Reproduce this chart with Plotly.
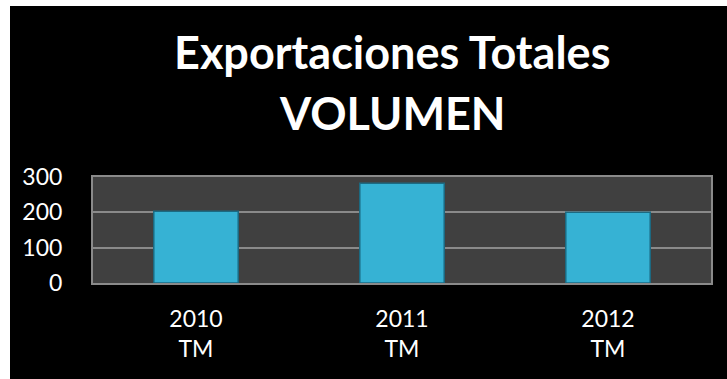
import plotly.graph_objects as go

years = ["2010", "2011", "2012"]
unit = "TM"
values = [203, 282, 200]
title_lines = ["Exportaciones Totales", "VOLUMEN"]

W, H = 727, 379
L, R, T, B = 93, 16, 177, 96
pw, ph = W - L - R, H - T - B

def px_x(x):
    return (x - L) / pw

def px_y(y):
    return (H - B - y) / ph

cats = [f"{y}<br>{unit}" for y in years]

fig = go.Figure(go.Bar(
    x=cats, y=values,
    marker=dict(color="#36B2D4", line=dict(color="#1C6A82", width=1.5)),
    width=0.41,
))

title_centers = [52, 113]
annotations = [dict(text=t, xref="paper", yref="paper",
                    x=px_x(392), y=px_y(c), xanchor="center", yanchor="middle",
                    showarrow=False,
                    font=dict(family="Lato, sans-serif", size=45, color="white",
                              weight="bold"))
               for t, c in zip(title_lines, title_centers)]

fig.update_layout(
    width=W, height=H,
    margin=dict(l=L, r=R, t=T, b=B),
    paper_bgcolor="black",
    plot_bgcolor="#404040",
    showlegend=False,
    font=dict(family="Lato, Calibri, sans-serif", color="white", size=23),
    shapes=[
        dict(type="rect", xref="paper", yref="paper", layer="below",
             x0=px_x(-5), x1=px_x(10), y0=px_y(-5), y1=px_y(H + 5),
             fillcolor="white", line=dict(width=0)),
        dict(type="rect", xref="paper", yref="paper", layer="below",
             x0=px_x(-5), x1=px_x(W + 5), y0=px_y(-5), y1=px_y(6),
             fillcolor="white", line=dict(width=0)),
    ],
    annotations=annotations,
)
fig.update_yaxes(range=[0, 300], dtick=100, showgrid=True, gridcolor="#8A8A8A",
                 gridwidth=2, zeroline=False, showline=True, linecolor="#8A8A8A",
                 linewidth=2, mirror=True, ticks="", tickfont=dict(size=23),
                 ticklabelstandoff=24)
fig.update_xaxes(showline=True, linecolor="#8A8A8A", linewidth=2, mirror=True,
                 ticks="", tickfont=dict(size=23), ticklabelstandoff=14)

fig.write_html("out.html")
